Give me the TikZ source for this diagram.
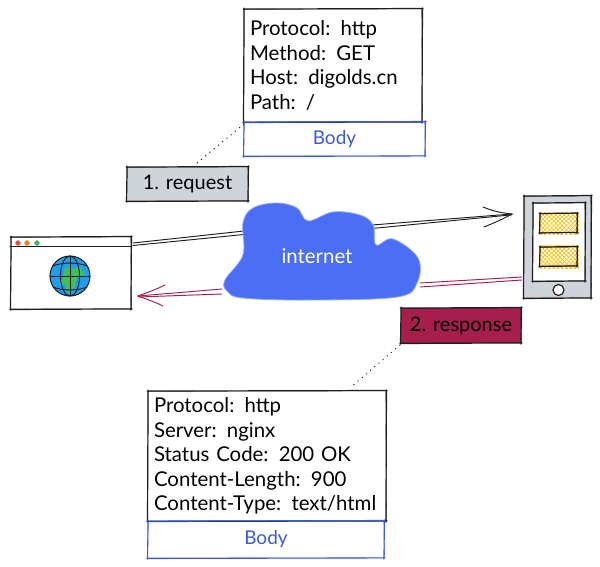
\documentclass[tikz,border=0pt]{standalone}
\usepackage{fontspec}
\setmainfont{Lato}
\usetikzlibrary{decorations.pathmorphing,patterns.meta}
\definecolor{ink}{HTML}{1E1E1E}
\definecolor{bodyblue}{HTML}{3B5BDB}
\definecolor{cloudblue}{HTML}{4C6EF5}
\definecolor{cloudedge}{HTML}{8CA2F8}
\definecolor{wine}{HTML}{A61E4D}
\definecolor{slategrey}{HTML}{CED4DA}
\definecolor{hatchyellow}{HTML}{FCC419}
\definecolor{globeblue}{HTML}{1C9FF0}
\definecolor{landgreen}{HTML}{40C057}
\newcommand{\sketchbox}[2]{%
  \draw[#2] ([shift={(-.6,.3)}]#1.north west) -- ([shift={(.8,-.3)}]#1.north east);
  \draw[#2] ([shift={(.3,-.8)}]#1.north east) -- ([shift={(-.3,.9)}]#1.south east);
  \draw[#2] ([shift={(.9,-.3)}]#1.south east) -- ([shift={(-.8,.3)}]#1.south west);
  \draw[#2] ([shift={(-.3,.8)}]#1.south west) -- ([shift={(.3,-.8)}]#1.north west);
  \draw[#2,line width=.55pt,opacity=.75] ([shift={(.4,.5)}]#1.north west) -- ([shift={(-.5,.1)}]#1.north east) -- ([shift={(.4,-.4)}]#1.south east) -- ([shift={(-.3,-.4)}]#1.south west) -- cycle;
}
\tikzset{
  x=1pt,y=-1pt,
  inkline/.style={draw=ink,line width=1.2pt,line cap=round,line join=round},
  blueline/.style={draw=bodyblue,line width=1.1pt,line cap=round,line join=round},
  textbox/.style={rectangle,fill=white,inner xsep=6pt,inner ysep=0pt,align=left,
    font=\fontsize{20.4}{24.5}\selectfont,text=black},
  bodybox/.style={rectangle,inner sep=0pt,font=\fontsize{19}{22}\selectfont,text=bodyblue},
  tagbox/.style={rectangle,inner sep=0pt,font=\fontsize{20}{22}\selectfont,text=black},
  plainbox/.style={rectangle,inner sep=0pt},
  request/.style={draw=ink,line width=.95pt,line cap=round},
  response/.style={draw=wine,line width=.95pt,line cap=round},
  leader/.style={draw=ink,line width=1.1pt,line cap=round,dash pattern=on 0.5pt off 5pt},
  yellowhatch/.style={pattern={Hatch[angle=45,distance=3pt,line width=.75pt]},pattern color=hatchyellow},
  dotmark/.style={circle,draw=ink!50,line width=.3pt,inner sep=0pt,minimum size=5pt},
}
\begin{document}
\begin{tikzpicture}
\useasboundingbox (0,0) rectangle (600,567);
% connectors
\coordinate (reqA) at (133,243);
\coordinate (reqB) at (244,231);
\coordinate (reqC) at (372,225);
\coordinate (reqTip) at (512,214);
\coordinate (reqBarbA) at (483,207);
\coordinate (reqBarbB) at (484,227);
\draw[request] (reqA) -- (reqB);
\draw[request] ([yshift=-2.5pt]reqA) -- ([yshift=-3.5pt]reqB);
\draw[request] (reqC) -- (reqTip);
\draw[request] ([yshift=-3.5pt]reqC) -- ([yshift=-.8pt]reqTip);
\draw[request] (reqBarbA) .. controls (495,212) and (503,213) .. (reqTip) .. controls (503,219) and (494,223) .. (reqBarbB);
\coordinate (resA) at (522,277);
\coordinate (resB) at (420,283);
\coordinate (resC) at (222,289);
\coordinate (resTip) at (138,296);
\coordinate (resBarbA) at (165,285);
\coordinate (resBarbB) at (163,306);
\draw[response] (resA) -- (resB);
\draw[response] ([yshift=-3pt]resA) -- ([yshift=-4pt]resB);
\draw[response] (resC) -- (resTip);
\draw[response] ([yshift=-5pt]resC) -- ([yshift=-1pt]resTip);
\draw[response] (resBarbA) .. controls (155,290) and (146,293) .. (resTip) .. controls (146,299) and (155,302) .. (resBarbB);
% browser window
\node[plainbox,fill=white,minimum width=120pt,minimum height=72pt] (browser) at (71,273) {};
\sketchbox{browser}{inkline}
\coordinate (barL) at (10,246.5);
\coordinate (barR) at (131,246.5);
\draw[inkline] (barL) -- (barR);
\node[dotmark,fill=red!75!white] (dotr) at (18,243) {};
\node[dotmark,fill=orange!90!yellow] (doty) at (27,243) {};
\node[dotmark,fill=landgreen] (dotg) at (37,243) {};
% globe
\node[circle,fill=globeblue,inner sep=0pt,minimum size=40pt] (globe) at (70,276) {};
\fill[landgreen] (65,267) -- (72,269) -- (80,267) -- (85,275) -- (77,277) -- (75,287) -- (68,293) -- (65,285) -- (59,283) -- (63,278) -- cycle;
\draw[draw=ink,line width=1.05pt] (70,276) circle [radius=20];
\draw[draw=ink,line width=.95pt] (70,276) ellipse [x radius=9.5,y radius=20];
\draw[draw=ink,line width=.95pt] (50,276) -- (90,276);
\draw[draw=ink,line width=.95pt] (70,256) -- (70,296);
\draw[draw=ink,line width=.95pt] (53,266) .. controls (63,262) and (77,262) .. (87,266);
\draw[draw=ink,line width=.95pt] (53,287) .. controls (63,291) and (77,291) .. (87,287);
% phone
\node[plainbox,fill=slategrey,minimum width=67pt,minimum height=102pt] (phone) at (557.5,247) {};
\sketchbox{phone}{inkline}
\node[plainbox,fill=white,minimum width=52pt,minimum height=78pt] (screen) at (559,242) {};
\sketchbox{screen}{inkline}
\node[plainbox,minimum width=37pt,minimum height=19pt] (cardA) at (558.5,223) {};
\node[plainbox,minimum width=37pt,minimum height=19pt] (cardB) at (558.5,256.5) {};
\fill[yellowhatch] ([shift={(-.5,-1)}]cardA.north west) rectangle ([shift={(2,2)}]cardA.south east);
\fill[yellowhatch] ([shift={(-.5,-1)}]cardB.north west) rectangle ([shift={(2,2)}]cardB.south east);
\sketchbox{cardA}{inkline}
\sketchbox{cardB}{inkline}
\node[inkline,circle,fill=white,inner sep=0pt,minimum size=11pt] (homekey) at (558.5,290) {};
% cloud
\path[fill=cloudblue,draw=cloudedge,line width=.8pt] plot[smooth cycle,tension=.6] coordinates {(225,280) (243,255) (243,223) (253,208) (277,203) (297,208) (308,221) (333,212) (360,215) (373,225) (376,245) (393,239) (418,258) (417,283) (397,297) (310,300) (243,298) (227,291)};
\node[text=white,font=\fontsize{20.4}{22}\selectfont] (cloudlabel) at (317,256) {internet};
% request packet
\node[textbox,text width=166pt,minimum height=113pt] (reqbox) at (333,65.5) {Protocol: http\\Method: GET\\Host: digolds.cn\\Path: /};
\sketchbox{reqbox}{inkline}
\node[bodybox,minimum width=181pt,minimum height=34pt] (reqbody) at (334.5,139) {Body};
\sketchbox{reqbody}{blueline}
\node[tagbox,fill=slategrey,minimum width=121pt,minimum height=34pt] (reqtag) at (187.5,184) {1. request};
\sketchbox{reqtag}{inkline}
\coordinate (reqLeadA) at (244,124);
\coordinate (reqLeadB) at (197,163);
\draw[leader] (reqLeadA) -- (reqLeadB);
% response packet
\node[textbox,text width=226pt,minimum height=130pt] (resbox) at (267,456) {Protocol: http\\Server: nginx\\Status Code: 200 OK\\Content-Length: 900\\Content-Type: text/html};
\sketchbox{resbox}{inkline}
\node[bodybox,minimum width=236pt,minimum height=37pt] (resbody) at (266,539.5) {Body};
\sketchbox{resbody}{blueline}
\node[tagbox,fill=wine,minimum width=120pt,minimum height=35pt] (restag) at (461,325.5) {2. response};
\sketchbox{restag}{inkline}
\coordinate (resLeadA) at (400,345);
\coordinate (resLeadB) at (350,388);
\draw[leader] (resLeadA) -- (resLeadB);
\end{tikzpicture}
\end{document}
